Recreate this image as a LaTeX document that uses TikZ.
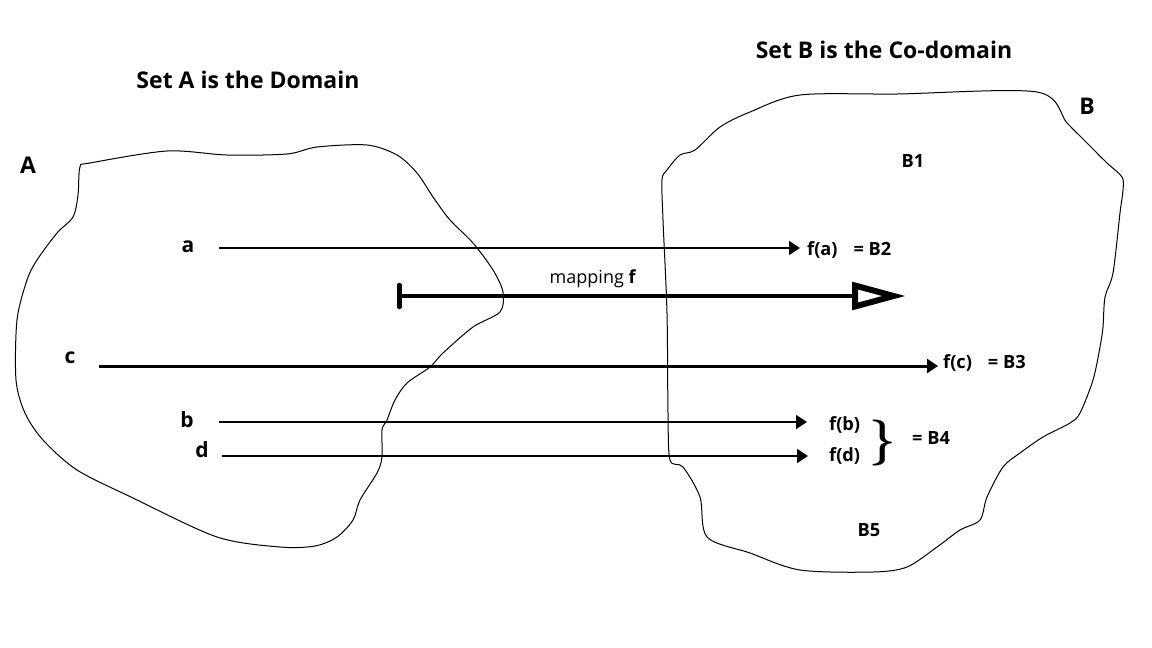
\documentclass[tikz,border=0pt]{standalone}
\usepackage{fontspec}
\setmainfont{Open Sans}
\newfontfamily\bracefont{Latin Modern Roman}
\usetikzlibrary{arrows.meta}
\begin{document}
\begin{tikzpicture}[x=1pt,y=-1pt,
  lbl/.style={font=\bfseries\fontsize{18.2}{20}\selectfont, inner sep=0pt},
  elem/.style={font=\bfseries\fontsize{21}{23}\selectfont, inner sep=0pt},
  ttl/.style={font=\bfseries\fontsize{23}{26}\selectfont, inner sep=0pt},
  blob/.style={draw=black, line width=1pt},
  maparrow/.style={line width=2pt, -{Triangle[length=11pt, width=14pt]}},
  bigarrow/.style={line width=4.5pt, {Bar[width=22pt, line width=4.5pt, line cap=round]}-{Triangle[open, length=54pt, width=27pt, line width=6pt]}}
]
\useasboundingbox (0,0) rectangle (1152,648);
\fill[white] (0,0) rectangle (1152,648);

% Set A
\draw[blob] plot[smooth cycle, tension=0.5] coordinates {
 (80,167) (90,163) (167,151) (227,155) (287,154) (317,147) (367,145) (397,155)
 (417,173) (433,197) (450,220) (473,243) (493,270) (503,292) (500,312) (473,327)
 (443,353) (430,367) (407,383) (395,400) (387,420) (382,430) (382,457) (377,473)
 (360,500) (353,520) (337,537) (315,546) (280,547) (217,537) (133,498) (77,470)
 (43,440) (25,413) (16,380) (17,320) (27,280) (37,260) (57,233) (73,217) (78,195)};

% Set B
\draw[blob] plot[smooth cycle, tension=0.5] coordinates {
 (662,180) (667,170) (680,155) (695,150) (720,127) (750,112) (800,95) (897,94)
 (1037,92) (1067,123) (1087,143) (1107,163) (1122,177) (1123,190) (1120,213)
 (1113,273) (1105,297) (1103,327) (1100,347) (1093,380) (1080,413) (1070,423)
 (1043,437) (1020,453) (1003,467) (987,497) (980,520) (960,530) (937,547)
 (907,567) (873,572) (800,570) (750,553) (707,537) (700,497) (683,467)
 (670,460) (668,413) (667,313) (663,220)};

% titles
\node[ttl] (ttlA) at (248,80) {Set A is the Domain};
\node[ttl] (ttlB) at (884,50) {Set B is the Co-domain};
\node[ttl] (nameA) at (28,165) {A};
\node[ttl] (nameB) at (1087,106) {B};
\node[lbl] (B1) at (913,161) {B1};
\node[lbl] (B5) at (869,530) {B5};

% element labels
\node[elem] (a) at (188,247) {a};
\node[elem] (c) at (70,358) {c};
\node[elem] (b) at (187,420) {b};
\node[elem] (d) at (202,450) {d};

% images
\node[lbl, anchor=west] (fa) at (807,250) {f(a)\hspace{16pt}= B2};
\node[lbl, anchor=west] (fc) at (943,363) {f(c)\hspace{16pt}= B3};
\node[lbl, anchor=west] (fb) at (829,425) {f(b)};
\node[lbl, anchor=west] (fd) at (829,456) {f(d)};
\node[inner sep=0pt, font=\bracefont\bfseries\fontsize{46}{46}\selectfont] (brace) at (883,443) {\}};
\node[lbl, anchor=west] (B4) at (912,438) {= B4};

% connectors
\coordinate (a0) at (219,248);
\coordinate (a1) at (800,248);
\coordinate (c0) at (99,366);
\coordinate (c1) at (938,366);
\coordinate (b0) at (219,422);
\coordinate (b1) at (807,422);
\coordinate (d0) at (222,456);
\coordinate (d1) at (808,456);
\draw[maparrow, line width=1.8pt] (a0) -- (a1);
\draw[maparrow, line width=3pt] (c0) -- (c1);
\draw[maparrow, line width=1.8pt] (b0) -- (b1);
\draw[maparrow, line width=1.8pt] (d0) -- (d1);

% mapping f
\coordinate (m0) at (397,296);
\coordinate (m1) at (906,296);
\draw[bigarrow] (m0) -- (m1);
\node[inner sep=0pt, font=\fontsize{18}{20}\selectfont] (mapf) at (593,279) {mapping \textbf{f}};
\end{tikzpicture}
\end{document}
